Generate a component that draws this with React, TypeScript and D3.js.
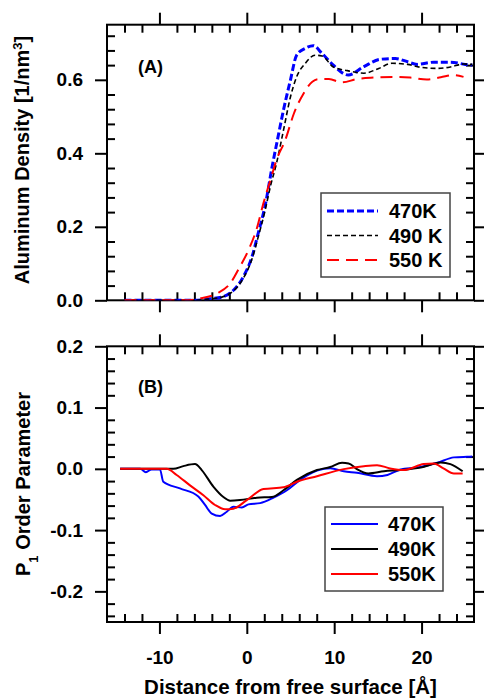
import React, { useRef, useEffect } from 'react';
import * as d3 from 'd3';

// ---- data ----
// (A) aluminum density profiles [1/nm^3]
const densX470 = [-14, -10, -6, -4.2, -2.7, -1.5, -0.4, 0.6, 1.3, 2.1, 2.9, 3.5, 4.2, 5.0, 5.7, 6.7, 7.6, 8.6, 9.9, 11.6, 13.4, 15.3, 17.0, 18.4, 19.5, 21.4, 23.3, 25.0, 25.8];
const densY470 = [0, 0, 0, 0.004, 0.01, 0.028, 0.064, 0.119, 0.182, 0.258, 0.364, 0.436, 0.518, 0.6, 0.667, 0.686, 0.693, 0.672, 0.64, 0.613, 0.636, 0.656, 0.658, 0.649, 0.642, 0.648, 0.648, 0.642, 0.64];
const densX490 = [-14, -10, -6, -4.2, -2.7, -1.5, -0.4, 0.6, 1.3, 2.1, 2.7, 3.4, 4.2, 5.0, 5.7, 6.7, 7.8, 8.6, 9.9, 11.5, 13.4, 15.1, 16.6, 18.4, 19.9, 21.8, 23.3, 24.8, 25.8];
const densY490 = [0, 0, 0, 0.004, 0.01, 0.026, 0.06, 0.113, 0.172, 0.245, 0.31, 0.373, 0.463, 0.554, 0.608, 0.645, 0.667, 0.665, 0.635, 0.625, 0.618, 0.631, 0.645, 0.642, 0.634, 0.631, 0.635, 0.643, 0.642];
const densX550 = [-14, -10, -7, -5.4, -3.4, -1.9, -0.8, 0.2, 1.2, 1.9, 2.7, 3.4, 4.4, 5.4, 6.5, 7.5, 8.2, 9.4, 10.9, 12.6, 14.5, 16.8, 18.7, 20.6, 22.2, 23.7, 24.8];
const densY550 = [0, 0, 0, 0.005, 0.019, 0.046, 0.091, 0.137, 0.2, 0.264, 0.327, 0.382, 0.436, 0.509, 0.563, 0.595, 0.602, 0.602, 0.593, 0.602, 0.606, 0.608, 0.606, 0.601, 0.607, 0.613, 0.608];

// (B) P1 order parameter
const p1X470 = [-14.5, -12.2, -11.55, -10.9, -9.94, -9.56, -7.65, -5.55, -4.78, -4.01, -3.06, -2.29, -1.53, -0.57, 0.19, 1.53, 3.06, 4.59, 6.11, 8.03, 9.55, 11.1, 12.6, 14.9, 16.1, 17.6, 19.5, 21.8, 23.7, 25.2, 25.8];
const p1Y470 = [0, 0, -0.0054, -0.001, -0.001, -0.021, -0.032, -0.045, -0.059, -0.073, -0.077, -0.07, -0.062, -0.063, -0.058, -0.056, -0.047, -0.035, -0.018, -0.003, 0.001, -0.004, -0.0065, -0.012, -0.01, -0.001, 0.002, 0.0098, 0.0187, 0.0197, 0.02];
const p1X490 = [-14.5, -8.41, -7.27, -5.93, -5.16, -3.83, -2.68, -1.91, -0.77, 1.15, 2.87, 4.2, 5.73, 8.03, 9.55, 10.9, 11.65, 12.6, 13.9, 15.7, 17.6, 19.9, 22.2, 23.3, 24.7];
const p1Y490 = [0, 0, 0.0044, 0.0077, -0.002, -0.029, -0.046, -0.052, -0.051, -0.047, -0.046, -0.035, -0.018, -0.002, 0.003, 0.0098, 0.0088, -0.0005, -0.0075, -0.004, -0.002, 0.002, 0.0105, 0.0077, -0.004];
const p1X550 = [-14.5, -9.17, -8.03, -6.5, -4.97, -3.63, -2.49, -1.53, 0, 1.91, 4.2, 5.73, 8.03, 11.1, 13.4, 14.9, 16.4, 17.96, 20.25, 21.4, 22.5, 23.7, 24.7];
const p1Y550 = [0, 0, -0.01, -0.027, -0.043, -0.059, -0.066, -0.065, -0.051, -0.033, -0.03, -0.021, -0.012, -0.0005, 0.0044, 0.006, 0.0007, -0.002, 0.0077, 0.0088, 0.0007, -0.0075, -0.0075];

const xDomain = [-16, 26];
const xMajorTicks = [-10, 0, 10, 20];
const densMajorTicks = [0, 0.2, 0.4, 0.6];
const p1MajorTicks = [-0.2, -0.1, 0, 0.1, 0.2];

const densLabels = ['470K', '490 K', '550 K'];
const p1Labels = ['470K', '490K', '550K'];
const colors = ['#0000ff', '#000000', '#ff0000'];

const FONT = '"Liberation Sans", Arial, sans-serif';

const App = () => {
  const ref = useRef<SVGSVGElement>(null);

  useEffect(() => {
    const svg = d3.select(ref.current);
    svg.selectAll('*').remove();

    const left = 107;
    const right = 474;
    const innerWidth = right - left;

    const x = d3.scaleLinear().domain(xDomain).range([0, innerWidth]);
    const xMinor = d3.range(-14, 26, 2).filter((v) => !xMajorTicks.includes(v));

    const fmt = (v: number) => (v < 0 ? '-' : '') + Math.abs(v).toFixed(1);

    const styleAxis = (g: any, labels: boolean) => {
      g.select('.domain').remove();
      g.selectAll('line').attr('stroke', '#000').attr('stroke-width', 2);
      g.attr('font-family', FONT).attr('font-size', 19).attr('font-weight', 'bold');
      g.selectAll('text').attr('fill', '#000');
      if (!labels) g.selectAll('text').remove();
    };

    const drawPanel = (
      id: string,
      top: number,
      bottom: number,
      yDomain: number[],
      yMajor: number[],
      yMinorStep: number,
      showXLabels: boolean
    ) => {
      const innerHeight = bottom - top;
      const y = d3.scaleLinear().domain(yDomain).range([innerHeight, 0]);
      const g = svg.append('g').attr('transform', `translate(${left},${top})`);

      const yMinor = d3
        .range(Math.round(yDomain[0] / yMinorStep), Math.round(yDomain[1] / yMinorStep) + 1)
        .map((k) => +(k * yMinorStep).toFixed(4))
        .filter((v) => v > yDomain[0] && v < yDomain[1] && !yMajor.some((m) => Math.abs(m - v) < 1e-6));

      // major ticks point outward, minor ticks inward
      g.append('g')
        .attr('transform', `translate(0,${innerHeight})`)
        .call(d3.axisBottom(x).tickValues(xMajorTicks).tickSize(12).tickPadding(17).tickFormat((d: any) => String(d)))
        .call((s: any) => styleAxis(s, showXLabels));
      g.append('g')
        .attr('transform', `translate(0,${innerHeight})`)
        .call(d3.axisBottom(x).tickValues(xMinor).tickSize(-8))
        .call((s: any) => styleAxis(s, false));
      g.append('g')
        .call(d3.axisTop(x).tickValues(xMajorTicks).tickSize(12))
        .call((s: any) => styleAxis(s, false));
      g.append('g')
        .call(d3.axisTop(x).tickValues(xMinor).tickSize(-8))
        .call((s: any) => styleAxis(s, false));

      g.append('g')
        .call(d3.axisLeft(y).tickValues(yMajor).tickSize(12).tickPadding(12).tickFormat((d: any) => fmt(d)))
        .call((s: any) => styleAxis(s, true));
      g.append('g')
        .call(d3.axisLeft(y).tickValues(yMinor).tickSize(-8))
        .call((s: any) => styleAxis(s, false));
      g.append('g')
        .attr('transform', `translate(${innerWidth},0)`)
        .call(d3.axisRight(y).tickValues(yMajor).tickSize(12))
        .call((s: any) => styleAxis(s, false));
      g.append('g')
        .attr('transform', `translate(${innerWidth},0)`)
        .call(d3.axisRight(y).tickValues(yMinor).tickSize(-8))
        .call((s: any) => styleAxis(s, false));

      g.append('clipPath')
        .attr('id', id)
        .append('rect')
        .attr('width', innerWidth)
        .attr('height', innerHeight);

      g.append('rect')
        .attr('width', innerWidth)
        .attr('height', innerHeight)
        .attr('fill', 'none')
        .attr('stroke', '#000')
        .attr('stroke-width', 2);

      return { g, y };
    };

    // ---- panel A ----
    const A = drawPanel('clipA', 24.7, 300.3, [0, 0.75], densMajorTicks, 0.04, false);

    const densSeries = [
      { xs: densX470, ys: densY470, width: 3, dash: '7 3' },
      { xs: densX490, ys: densY490, width: 1.6, dash: '5 3' },
      { xs: densX550, ys: densY550, width: 2, dash: '12 7' },
    ];

    densSeries.forEach((s, i) => {
      const pts = s.xs.map((xv, k) => [xv, s.ys[k]] as [number, number]);
      const path = d3
        .line<[number, number]>()
        .x((d) => x(d[0]))
        .y((d) => A.y(d[1]))
        .curve(d3.curveMonotoneX);
      A.g.append('path')
        .attr('d', path(pts))
        .attr('fill', 'none')
        .attr('stroke', colors[i])
        .attr('stroke-width', s.width)
        .attr('stroke-dasharray', s.dash)
        .attr('clip-path', 'url(#clipA)');
    });

    A.g.append('text')
      .attr('x', 31)
      .attr('y', 48)
      .attr('font-family', FONT)
      .attr('font-size', 18)
      .attr('font-weight', 'bold')
      .text('(A)');

    // legend A
    const legA = svg.append('g').attr('transform', 'translate(321,193)');
    legA.append('rect').attr('width', 129).attr('height', 84).attr('fill', '#fff').attr('stroke', '#444').attr('stroke-width', 1.5);
    densSeries.forEach((s, i) => {
      const ry = 18 + i * 24.5;
      legA.append('line')
        .attr('x1', 6).attr('x2', 57).attr('y1', ry).attr('y2', ry)
        .attr('stroke', colors[i]).attr('stroke-width', s.width).attr('stroke-dasharray', s.dash);
      legA.append('text')
        .attr('x', 68).attr('y', ry).attr('dy', '0.36em')
        .attr('font-family', FONT).attr('font-size', 20).attr('font-weight', 'bold')
        .text(densLabels[i]);
    });

    // ---- panel B ----
    const B = drawPanel('clipB', 346.3, 622, [-0.25, 0.2], p1MajorTicks, 0.02, true);
    const p1Series = [
      { xs: p1X470, ys: p1Y470 },
      { xs: p1X490, ys: p1Y490 },
      { xs: p1X550, ys: p1Y550 },
    ];
    p1Series.forEach((s, i) => {
      const pts = s.xs.map((xv, k) => [xv, s.ys[k]] as [number, number]);
      const path = d3
        .line<[number, number]>()
        .x((d) => x(d[0]))
        .y((d) => B.y(d[1]))
        .curve(d3.curveMonotoneX);
      B.g.append('path')
        .attr('d', path(pts))
        .attr('fill', 'none')
        .attr('stroke', colors[i])
        .attr('stroke-width', 2)
        .attr('clip-path', 'url(#clipB)');
    });

    B.g.append('text')
      .attr('x', 31)
      .attr('y', 47)
      .attr('font-family', FONT)
      .attr('font-size', 18)
      .attr('font-weight', 'bold')
      .text('(B)');

    const legB = svg.append('g').attr('transform', 'translate(325,507)');
    legB.append('rect').attr('width', 118).attr('height', 84).attr('fill', '#fff').attr('stroke', '#444').attr('stroke-width', 1.5);
    p1Series.forEach((s, i) => {
      const ry = 17 + i * 25;
      legB.append('line')
        .attr('x1', 6).attr('x2', 53).attr('y1', ry).attr('y2', ry)
        .attr('stroke', colors[i]).attr('stroke-width', 2);
      legB.append('text')
        .attr('x', 63).attr('y', ry).attr('dy', '0.36em')
        .attr('font-family', FONT).attr('font-size', 20).attr('font-weight', 'bold')
        .text(p1Labels[i]);
    });

    // ---- axis titles ----
    const yTitleA = svg.append('text')
      .attr('transform', 'translate(29,160) rotate(-90)')
      .attr('text-anchor', 'middle')
      .attr('font-family', FONT).attr('font-size', 20).attr('font-weight', 'bold');
    yTitleA.append('tspan').text('Aluminum Density [1/nm');
    yTitleA.append('tspan').attr('baseline-shift', 'super').attr('font-size', 13).text('3');
    yTitleA.append('tspan').text(']');

    const yTitleB = svg.append('text')
      .attr('transform', 'translate(30,484) rotate(-90)')
      .attr('text-anchor', 'middle')
      .attr('font-family', FONT).attr('font-size', 20).attr('font-weight', 'bold');
    yTitleB.append('tspan').text('P');
    yTitleB.append('tspan').attr('baseline-shift', 'sub').attr('font-size', 13).text('1');
    yTitleB.append('tspan').text(' Order Parameter');

    svg.append('text')
      .attr('x', (left + right) / 2)
      .attr('y', 694)
      .attr('text-anchor', 'middle')
      .attr('font-family', FONT).attr('font-size', 20.5).attr('font-weight', 'bold')
      .text('Distance from free surface [Å]');
  }, []);

  return (
    <svg
      ref={ref}
      width={484}
      height={698}
      style={{ position: 'absolute', left: 0, top: 0, background: '#fff' }}
    />
  );
};

export default App;
